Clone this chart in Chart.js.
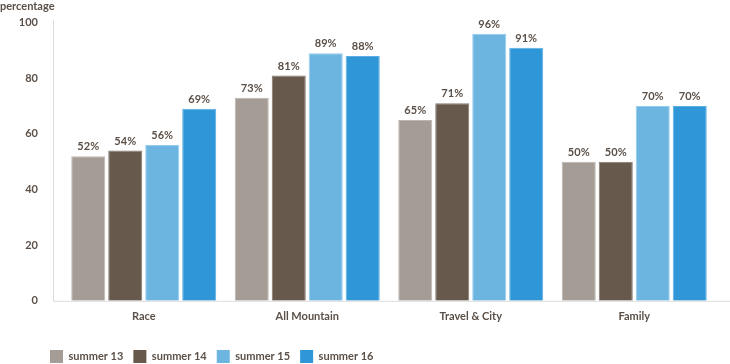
<!DOCTYPE html>
<html>
<head>
<meta charset="utf-8">
<script src="https://cdn.jsdelivr.net/npm/chart.js@4.4.1/dist/chart.umd.min.js"></script>
<style>
  body { margin: 0; background: #fff; }
  #wrap { width: 730px; height: 364px; position: relative; }
</style>
</head>
<body>
<div id="wrap"><canvas id="chartCanvas"></canvas></div>
<script>
const categories = ['Race', 'All Mountain', 'Travel & City', 'Family'];
const seriesNames = ['summer 13', 'summer 14', 'summer 15', 'summer 16'];
const summer13 = [52, 73, 65, 50];
const summer14 = [54, 81, 71, 50];
const summer15 = [56, 89, 96, 70];
const summer16 = [69, 88, 91, 70];
const yTicks = [0, 20, 40, 60, 80, 100];

const colors = ['#a59c95', '#67594c', '#6cb5e1', '#2f96d7'];
const edgeColors = ['#bdb6b0', '#85796e', '#95cbec', '#5aaee2'];
const textColor = '#5b5048';
const fontFamily = 'Lato, "Open Sans", sans-serif';
const labelFont = { family: fontFamily, size: 11, weight: 'bold' };

// value labels, axis lines and the "percentage" caption
const extras = {
    id: 'extras',
    afterLayout(chart) {
        // legend starts under the y axis, not at the page edge
        if (chart.legend) chart.legend.left = 40;
    },
    afterDatasetsDraw(chart) {
        const ctx = chart.ctx;
        const area = chart.chartArea;
        ctx.save();
        ctx.strokeStyle = '#dcdcdc';
        ctx.lineWidth = 1;
        ctx.beginPath();
        ctx.moveTo(area.left - 8.5, area.top - 3);
        ctx.lineTo(area.left - 8.5, area.bottom + 0.5);
        ctx.lineTo(chart.width, area.bottom + 0.5);
        ctx.stroke();

        ctx.fillStyle = textColor;
        ctx.font = 'bold 11px ' + fontFamily;
        ctx.textAlign = 'center';
        ctx.textBaseline = 'bottom';
        chart.data.datasets.forEach((ds, i) => {
            chart.getDatasetMeta(i).data.forEach((bar, j) => {
                ctx.fillText(ds.data[j] + '%', bar.x, bar.y - 4);
            });
        });

        ctx.textAlign = 'left';
        ctx.textBaseline = 'middle';
        ctx.fillText('percentage', 0, 6);
        ctx.restore();
    }
};

const datasets = [summer13, summer14, summer15, summer16].map((d, i) => ({
    label: seriesNames[i],
    data: d,
    backgroundColor: colors[i],
    borderColor: edgeColors[i],
    borderWidth: 1,
    barPercentage: 0.92,
    categoryPercentage: 0.905
}));

new Chart(document.getElementById('chartCanvas').getContext('2d'), {
    type: 'bar',
    data: { labels: categories, datasets: datasets },
    options: {
        responsive: true,
        maintainAspectRatio: false,
        animation: false,
        layout: { padding: { left: 0, right: 14, top: 20, bottom: -9 } },
        plugins: {
            legend: {
                position: 'bottom',
                align: 'start',
                labels: {
                    boxWidth: 13,
                    boxHeight: 13,
                    padding: 10,
                    color: textColor,
                    font: labelFont,
                    generateLabels(chart) {
                        return chart.data.datasets.map((ds, i) => ({
                            text: ds.label,
                            fillStyle: colors[i],
                            strokeStyle: colors[i],
                            lineWidth: 0,
                            fontColor: textColor,
                            datasetIndex: i
                        }));
                    }
                }
            },
            tooltip: { enabled: false }
        },
        scales: {
            x: {
                grid: { display: false },
                border: { display: false },
                afterFit(scale) {
                    scale.height += 16;
                },
                ticks: {
                    padding: 1,
                    color: textColor,
                    font: labelFont
                }
            },
            y: {
                min: yTicks[0],
                max: yTicks[yTicks.length - 1],
                afterFit(scale) {
                    scale.width = 62;
                },
                grid: { display: false },
                border: { display: false },
                ticks: {
                    stepSize: yTicks[1] - yTicks[0],
                    padding: 16,
                    color: textColor,
                    font: labelFont
                }
            }
        }
    },
    plugins: [extras]
});
</script>
</body>
</html>
